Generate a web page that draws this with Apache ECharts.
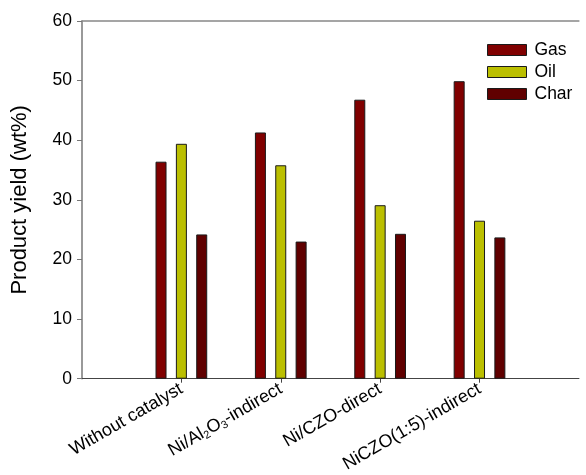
<!DOCTYPE html>
<html>
<head>
<meta charset="utf-8">
<script src="https://cdn.jsdelivr.net/npm/echarts@6/dist/echarts.min.js"></script>
<style>
  html, body { margin: 0; padding: 0; background: #fff; }
  #chart { width: 586px; height: 475px; }
</style>
</head>
<body>
<div id="chart"></div>
<script>
// categories (blank slots at both ends keep the axis spacing of the original)
var categories = ['', 'Without catalyst', 'Ni/Al2O3-indirect', 'Ni/CZO-direct', 'NiCZO(1:5)-indirect', '']
var gasData = [null, 36.4, 41.3, 46.8, 49.9, null]
var oilData = [null, 39.4, 35.8, 29.1, 26.5, null]
var charData = [null, 24.2, 23.0, 24.3, 23.7, null]
var yTicks = [0, 10, 20, 30, 40, 50, 60]

var myChart = echarts.init(document.getElementById('chart'))
var font = 'Liberation Sans, Arial, sans-serif'

function catLabel (value) {
  if (value === 'Ni/Al2O3-indirect') {
    return '{a|Ni/Al}{s|2}{a|O}{s|3}{a|-indirect}'
  }
  return '{a|' + value + '}'
}

var barStyle = function (color) {
  return { color: color, borderColor: '#1a1a1a', borderWidth: 1 }
}

var option = {
  animation: false,
  backgroundColor: '#fff',
  textStyle: { fontFamily: font },
  grid: { left: 82, right: -3, top: 21, bottom: 90, containLabel: false },
  legend: {
    orient: 'vertical',
    left: 482,
    top: 36,
    itemWidth: 39,
    itemHeight: 11,
    itemGap: 4,
    icon: 'rect',
    data: ['Gas', 'Oil', 'Char'],
    textStyle: { fontSize: 17.5, color: '#000', fontFamily: font, padding: [0, 0, 0, 3] },
    itemStyle: { borderColor: '#1a1a1a', borderWidth: 1 }
  },
  xAxis: [{
    type: 'category',
    data: categories,
    boundaryGap: false,
    axisLine: { lineStyle: { color: '#444', width: 1.2 } },
    axisTick: {
      length: 4,
      interval: function (index) { return index > 0 && index < categories.length - 1 },
      lineStyle: { color: '#444' }
    },
    axisLabel: {
      interval: 0,
      rotate: 30,
      margin: 9,
      formatter: catLabel,
      rich: {
        a: { fontSize: 18, color: '#000', fontFamily: font },
        s: { fontSize: 11, color: '#000', fontFamily: font, verticalAlign: 'bottom', padding: [9, 0, 0, 0] }
      }
    }
  }, {
    type: 'category',
    data: categories,
    position: 'top',
    axisLine: { lineStyle: { color: '#888', width: 1.5 } },
    axisTick: { show: false },
    axisLabel: { show: false }
  }],
  yAxis: {
    type: 'value',
    min: yTicks[0],
    max: yTicks[yTicks.length - 1],
    interval: 10,
    name: 'Product yield (wt%)',
    nameLocation: 'middle',
    nameGap: 51,
    nameTextStyle: { fontSize: 22, color: '#000', fontFamily: font },
    axisLine: { show: true, lineStyle: { color: '#777', width: 1.5 } },
    axisTick: { show: true, length: 5, lineStyle: { color: '#777' } },
    axisLabel: { fontSize: 17.5, color: '#000', margin: 10, fontFamily: font },
    splitLine: { show: false }
  },
  series: [{
    name: 'Gas',
    type: 'bar',
    data: gasData,
    barWidth: 11,
    barGap: '85%',
    itemStyle: barStyle('#800000')
  }, {
    name: 'Oil',
    type: 'bar',
    data: oilData,
    barWidth: 11,
    barGap: '85%',
    itemStyle: barStyle('#bbbf00')
  }, {
    name: 'Char',
    type: 'bar',
    data: charData,
    barWidth: 11,
    barGap: '85%',
    itemStyle: barStyle('#600000')
  }]
}
myChart.setOption(option)
</script>
</body>
</html>
